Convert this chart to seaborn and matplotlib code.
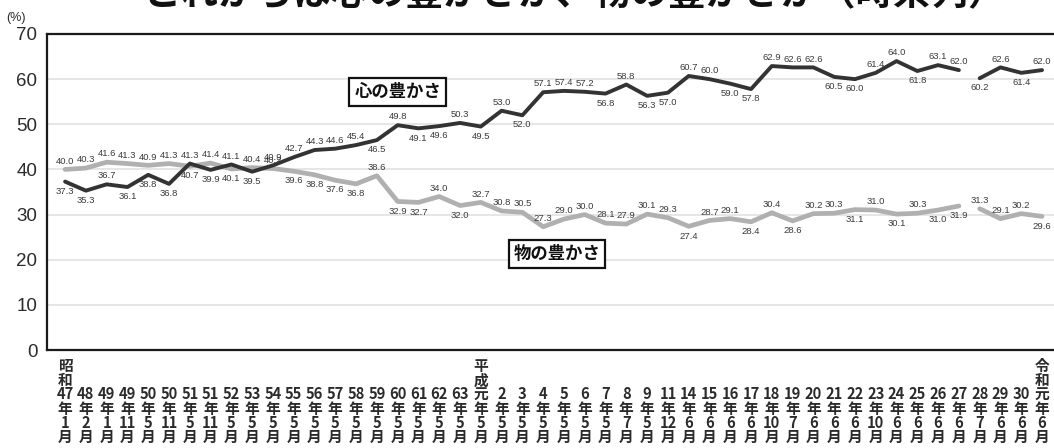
import matplotlib
matplotlib.use("Agg")
import matplotlib.pyplot as plt
import matplotlib.transforms as mtransforms
from matplotlib import font_manager
import numpy as np
import pandas as pd
import seaborn as sns

# ---- survey data -------------------------------------------------------
eras = ["昭和"] + [""] * 19 + ["平成"] + [""] * 26 + ["令和"]
years = ["47", "48", "49", "49", "50", "50", "51", "51", "52", "53",
         "54", "55", "56", "57", "58", "59", "60", "61", "62", "63",
         "元", "2", "3", "4", "5", "6", "7", "8", "9", "11",
         "14", "15", "16", "17", "18", "19", "20", "21", "22", "23",
         "24", "25", "26", "27", "28", "29", "30", "元"]
months = ["1", "2", "1", "11", "5", "11", "5", "11", "5", "5",
          "5", "5", "5", "5", "5", "5", "5", "5", "5", "5",
          "5", "5", "5", "5", "5", "5", "5", "7", "5", "12",
          "6", "6", "6", "6", "10", "7", "6", "6", "6", "10",
          "6", "6", "6", "6", "7", "6", "6", "6"]

kokoro = [37.3, 35.3, 36.7, 36.1, 38.8, 36.8,
          41.3, 39.9, 41.1, 39.5, 40.9, 42.7,
          44.3, 44.6, 45.4, 46.5,
          49.8, 49.1, 49.6, 50.3, 49.5,
          53.0, 52.0,
          57.1, 57.4, 57.2, 56.8, 58.8, 56.3, 57.0,
          60.7, 60.0, 59.0, 57.8,
          62.9, 62.6, 62.6,
          60.5, 60.0, 61.4, 64.0, 61.8, 63.1, 62.0,
          60.2, 62.6, 61.4, 62.0]

mono = [40.0, 40.3, 41.6, 41.3, 40.9, 41.3,
        40.7, 41.4, 40.1, 40.4, 40.2, 39.6,
        38.8, 37.6, 36.8, 38.6,
        32.9, 32.7, 34.0, 32.0, 32.7,
        30.8, 30.5,
        27.3, 29.0, 30.0, 28.1, 27.9, 30.1, 29.3,
        27.4, 28.7, 29.1, 28.4,
        30.4, 28.6, 30.2,
        30.3, 31.1, 31.0, 30.1, 30.3, 31.0, 31.9,
        31.3, 29.1, 30.2, 29.6]

# survey method changed from 平成28年, so the line is broken there
segment = [0] * 44 + [1] * 4

# value-label placement: a = above the point, b = below
kokoro_side = list("bbabbb" "ababaa" "aaab" "abbab" "ab" "aaabab" "b" "aabb"
                   "aaa" "bbaabaa" "baba")
mono_side = list("aaaaaa" "babaab" "bbba" "bbaba" "aa" "aaaaaaa" "baab"
                 "aba" "abababba" "aaba")[:48]

# ---- fonts ---------------------------------------------------------------
sns.set_theme(style="white")
installed = {f.name for f in font_manager.fontManager.ttflist}
narrow = "Liberation Sans Narrow" if "Liberation Sans Narrow" in installed else "Liberation Sans"
plt.rcParams["font.family"] = ["Noto Sans CJK JP", "DejaVu Sans"]

ink = "#2b2b2b"

df = pd.DataFrame({
    "pos": list(range(len(years))) * 2,
    "value": kokoro + mono,
    "series": ["心の豊かさ"] * len(kokoro) + ["物の豊かさ"] * len(mono),
    "seg": segment * 2,
})

fig = plt.figure(figsize=(10.54, 4.48), dpi=100)
W, H = 1054, 448
ax = fig.add_axes([47 / W, 1 - 350 / H, (1062 - 47) / W, (350 - 34) / H])

# horizontal grid
for g in range(10, 70, 10):
    ax.axhline(g, color="#e4e4e4", lw=1.3, zorder=0)

sns.lineplot(data=df[df.series == "物の豊かさ"], x="pos", y="value",
             units="seg", estimator=None, sort=False, color="#b0b0b0",
             lw=3.4, ax=ax, legend=False, zorder=2)
sns.lineplot(data=df[df.series == "心の豊かさ"], x="pos", y="value",
             units="seg", estimator=None, sort=False, color="#333333",
             lw=2.8, ax=ax, legend=False, zorder=3)

# value labels
def put_labels(vals, sides):
    for i, (v, s) in enumerate(zip(vals, sides)):
        dy = 6 if s == "a" else -7
        ax.annotate(f"{v:.1f}", (i, v), xytext=(0, dy), textcoords="offset points",
                    ha="center", va="center", fontsize=6.8, color="#3a3a3a",
                    family=[narrow, "DejaVu Sans"], zorder=4)

put_labels(kokoro, kokoro_side)
put_labels(mono, mono_side)

ax.set_xlim(-0.87, 47.96)
ax.set_ylim(0, 70)
ax.set_yticks(range(0, 80, 10))
ax.set_yticklabels([str(t) for t in range(0, 80, 10)],
                   family=[narrow, "DejaVu Sans"], fontsize=13.5, color=ink)
ax.set_xticks(range(len(years)))
ax.set_xticklabels([])
ax.tick_params(axis="x", direction="in", length=5, width=1, color="#555555")
ax.tick_params(axis="y", length=0, pad=7)
ax.set_xlabel("")
ax.set_ylabel("")
for side in ["left", "top", "bottom", "right"]:
    ax.spines[side].set_color("#1a1a1a")
    ax.spines[side].set_linewidth(1.6)

# category labels, written vertically
trans = mtransforms.blended_transform_factory(ax.transData, fig.transFigure)
for i, (e, y, m) in enumerate(zip(eras, years, months)):
    parts = list(e) + [y, "年", m, "月"]
    ax.text(i, 3 / H, "\n".join(parts), transform=trans, ha="center", va="bottom",
            fontsize=10.6, linespacing=0.86, fontweight="bold", color=ink,
            clip_on=False)

# series name boxes
box = dict(boxstyle="square,pad=0.28", fc="white", ec="#111111", lw=1.6)
ax.text(16.0, 57.2, "心の豊かさ", ha="center", va="center", fontsize=12.5,
        fontweight="bold", color="#111111", bbox=box, zorder=5)
ax.text(23.67, 21.3, "物の豊かさ", ha="center", va="center", fontsize=12.5,
        fontweight="bold", color="#111111", bbox=box, zorder=5)

fig.text(16 / W, 1 - 18 / H, "(%)", ha="center", va="center", fontsize=9,
         color=ink, family=[narrow, "DejaVu Sans"])
fig.text(575 / W, 1 - 5 / H, "これからは心の豊かさか、物の豊かさか（時系列）",
         ha="center", va="baseline", fontsize=27, fontweight="bold", color="#111111")

fig.savefig("out.png", dpi=100, facecolor="white")
